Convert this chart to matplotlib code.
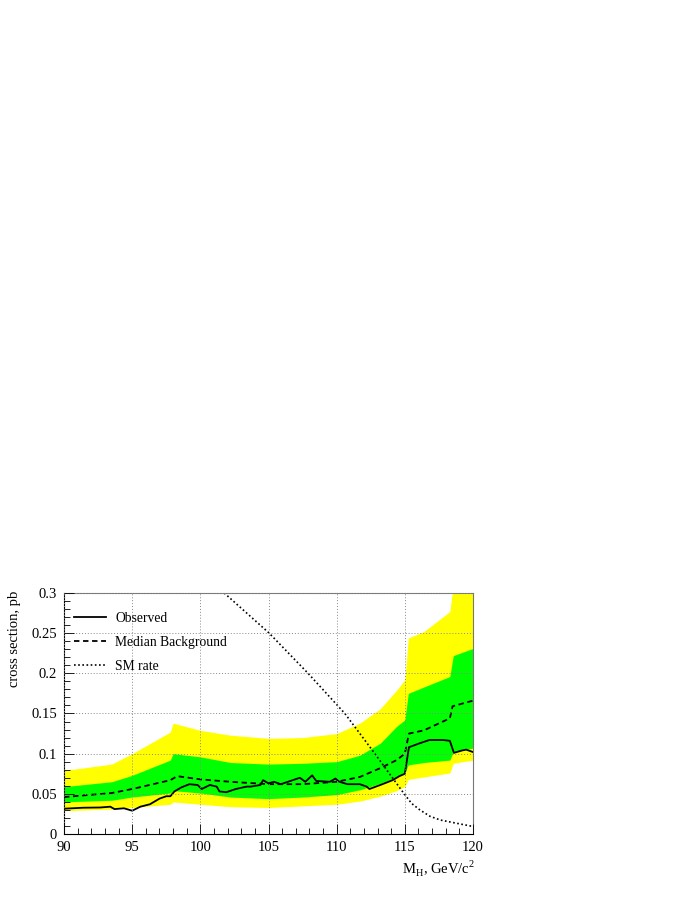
import numpy as np
import matplotlib
matplotlib.use('Agg')
import matplotlib.pyplot as plt
from matplotlib.ticker import MultipleLocator, FuncFormatter

plt.rcParams['font.family'] = ['Liberation Serif', 'DejaVu Serif']
plt.rcParams['font.size'] = 9.5

# band edges (mass, lower/upper edges of 2 sigma and 1 sigma bands)
band_mass = [90, 93.5, 95, 97.8, 98.0, 100, 102.2, 105, 107.5, 110, 111.7,
             113.2, 114.4, 115.0, 115.25, 116.4, 118.3, 118.55, 120]
yellow_hi = [0.079, 0.087, 0.100, 0.127, 0.138, 0.129, 0.123, 0.119, 0.120,
             0.125, 0.138, 0.156, 0.179, 0.192, 0.244, 0.252, 0.277, 0.31, 0.31]
green_hi = [0.059, 0.065, 0.073, 0.092, 0.100, 0.096, 0.089, 0.087, 0.088,
            0.090, 0.098, 0.113, 0.134, 0.142, 0.175, 0.183, 0.196, 0.222, 0.231]
green_lo = [0.040, 0.042, 0.046, 0.051, 0.054, 0.051, 0.046, 0.044, 0.046,
            0.049, 0.055, 0.063, 0.071, 0.076, 0.086, 0.089, 0.092, 0.102, 0.107]
yellow_lo = [0.029, 0.031, 0.033, 0.037, 0.040, 0.037, 0.034, 0.033, 0.035,
             0.037, 0.041, 0.047, 0.054, 0.059, 0.068, 0.071, 0.076, 0.088, 0.092]

med_mass = [90, 93.5, 95, 97.8, 98.3, 100, 102.2, 105, 107.5, 110, 111.7,
            113.2, 114.4, 115.0, 115.3, 116.4, 118.3, 118.5, 120]
median = [0.046, 0.051, 0.056, 0.067, 0.072, 0.068, 0.065, 0.062, 0.062,
          0.065, 0.071, 0.082, 0.092, 0.100, 0.125, 0.129, 0.144, 0.159, 0.166]

obs_mass = [90, 91.4, 92.65, 93.4, 93.7, 94.4, 95.0, 95.6, 96.3, 97.0, 97.5,
            97.8, 98.1, 98.6, 99.2, 99.8, 100.1, 100.7, 101.2, 101.4, 101.9,
            102.6, 103.4, 103.7, 104.4, 104.6, 105.0, 105.4, 105.9, 106.6,
            107.3, 107.7, 108.2, 108.5, 109.5, 109.9, 110.2, 110.8, 111.7,
            112.2, 112.4, 113.2, 114.1, 114.6, 115.0, 115.3, 116.1, 116.8,
            117.8, 118.3, 118.6, 119.2, 119.5, 120]
observed = [0.0315, 0.0327, 0.033, 0.034, 0.031, 0.032, 0.029, 0.034, 0.037,
            0.044, 0.047, 0.047, 0.053, 0.058, 0.062, 0.061, 0.056, 0.061,
            0.059, 0.053, 0.052, 0.056, 0.059, 0.059, 0.061, 0.067, 0.063,
            0.065, 0.062, 0.066, 0.070, 0.065, 0.073, 0.066, 0.065, 0.069,
            0.065, 0.062, 0.062, 0.059, 0.056, 0.061, 0.067, 0.072, 0.075,
            0.108, 0.113, 0.117, 0.117, 0.116, 0.101, 0.104, 0.105, 0.102]

sm_mass = [101.75, 105.05, 107.9, 110.6, 112.8, 114.95, 115.5, 116.1,
           116.85, 117.6, 119.8, 120]
sm_rate = [0.300, 0.250, 0.200, 0.150, 0.100, 0.050, 0.038, 0.030,
           0.022, 0.0174, 0.0100, 0.0097]

fig = plt.figure(figsize=(6.95, 8.99), dpi=100)
ax = fig.add_axes([0.0921, 0.0723, 0.5885, 0.2681])

ax.fill_between(band_mass, yellow_lo, yellow_hi, color='#ffff00', lw=0)
ax.fill_between(band_mass, green_lo, green_hi, color='#00ff00', lw=0)

ax.plot(obs_mass, observed, '-', color='black', lw=1.3, label='Observed')
ax.plot(med_mass, median, '--', color='black', lw=1.3,
        dashes=(3, 2), label='Median Background')
ax.plot(sm_mass, sm_rate, ':', color='black', lw=1.2,
        dashes=(1, 1.5), label='SM rate')

ax.set_xlim(90, 120)
ax.set_ylim(0, 0.3)
ax.xaxis.set_major_locator(MultipleLocator(5))
ax.xaxis.set_minor_locator(MultipleLocator(1))
ax.yaxis.set_major_locator(MultipleLocator(0.05))
ax.yaxis.set_minor_locator(MultipleLocator(0.01))
ax.yaxis.set_major_formatter(FuncFormatter(lambda v, p: ('%g' % round(v, 3))))
ax.tick_params(which='both', direction='in', top=False, right=False)
ax.tick_params(which='major', length=7, width=0.6, labelsize=10.5, pad=5)
ax.tick_params(which='minor', length=4, width=0.6)
ax.grid(True, which='major', linestyle=(0, (1, 2)), color='#888888', lw=0.7)
ax.set_axisbelow(False)
for s in ['left', 'bottom']:
    ax.spines[s].set_linewidth(0.8)
for s in ['top', 'right']:
    ax.spines[s].set_color('#777777')
    ax.spines[s].set_linewidth(0.8)

ax.set_ylabel('cross section, pb', fontsize=10.5)
ax.yaxis.set_label_coords(-0.105, 0.81)
ax.set_xlabel(r'M$_{\mathregular{H}}$, GeV/c$^{\mathregular{2}}$', fontsize=10.5)
ax.xaxis.set_label_coords(0.915, -0.1)

ax.legend(loc='upper left', frameon=False, fontsize=9.8, handlelength=2.4,
          handletextpad=0.65, labelspacing=0.8, borderaxespad=0.3,
          bbox_to_anchor=(0.0, 0.96))

fig.savefig('out.png', dpi=100)
